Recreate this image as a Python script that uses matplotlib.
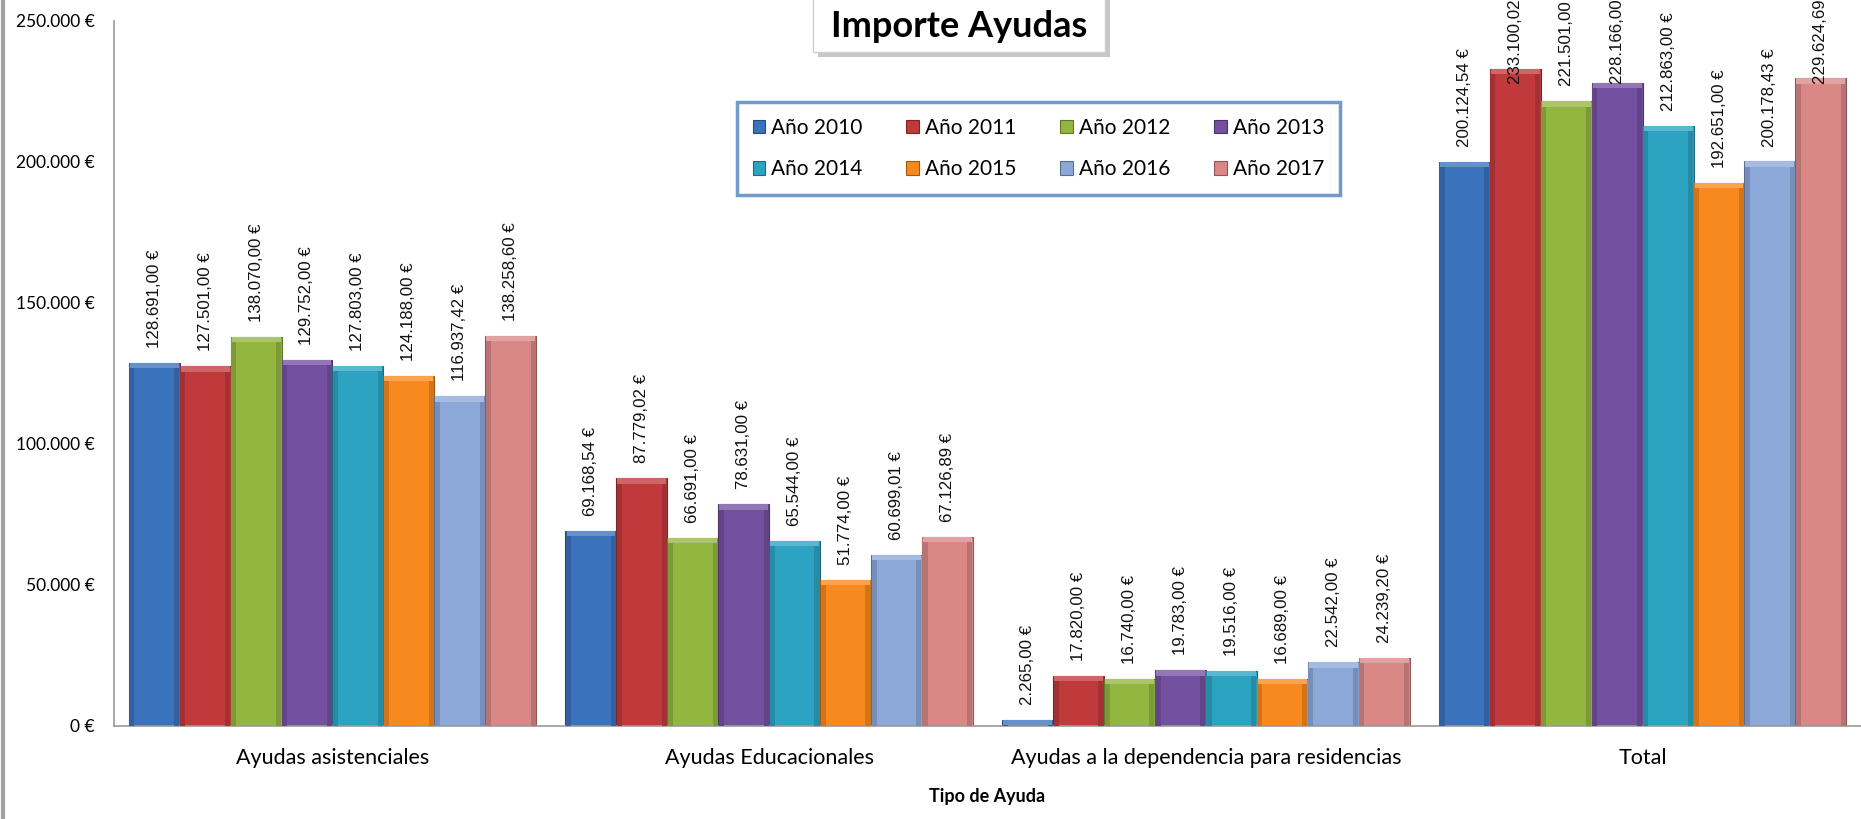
import numpy as np
import matplotlib
matplotlib.use("Agg")
import matplotlib.pyplot as plt
from matplotlib.patches import Rectangle
from matplotlib.lines import Line2D
from matplotlib.colors import to_rgb

# datos
categorias = ["Ayudas asistenciales", "Ayudas Educacionales",
              "Ayudas a la dependencia para residencias", "Total"]
anios = ["Año 2010", "Año 2011", "Año 2012", "Año 2013",
         "Año 2014", "Año 2015", "Año 2016", "Año 2017"]

asistenciales = [128691.00, 127501.00, 138070.00, 129752.00, 127803.00, 124188.00, 116937.42, 138258.60]
educacionales = [69168.54, 87779.02, 66691.00, 78631.00, 65544.00, 51774.00, 60699.01, 67126.89]
dependencia = [2265.00, 17820.00, 16740.00, 19783.00, 19516.00, 16689.00, 22542.00, 24239.20]
total = [200124.54, 233100.02, 221501.00, 228166.00, 212863.00, 192651.00, 200178.43, 229624.69]

colores = ["#3A72BC", "#C0393B", "#92B63F", "#7450A0", "#2DA3C2", "#F7891F", "#8CA8D9", "#D98886"]

valores = np.array([asistenciales, educacionales, dependencia, total])  # [categoria, anio]


def fmt_euro(v):
    s = "{:,.2f}".format(v)
    s = s.replace(",", "X").replace(".", ",").replace("X", ".")
    return s + " €"


def fmt_eje(v, pos):
    s = "{:,.0f}".format(v).replace(",", ".")
    return s + " €"


def mezcla(c, f):
    r, g, b = to_rgb(c)
    if f > 0:
        return (r + (1 - r) * f, g + (1 - g) * f, b + (1 - b) * f)
    return (r * (1 + f), g * (1 + f), b * (1 + f))


plt.rcParams['font.family'] = ['Lato', 'DejaVu Sans']

fig = plt.figure(figsize=(18.61, 8.19), dpi=100)
ax = fig.add_axes([0.0613, 0.1136, 0.9387, 0.8608])

x = np.arange(len(categorias))
w = 0.1166
bisel = 1900  # alto del brillo superior (unidades de datos)
handles = []
for i in range(len(anios)):
    pos = x + (i - 3.5) * w
    v = valores[:, i]
    b = ax.bar(pos, v, w, color=colores[i],
               edgecolor=mezcla(colores[i], -0.35), linewidth=0.8, label=anios[i], zorder=2)
    handles.append(b)
    # bordes laterales oscuros
    ax.bar(pos - w * 0.44, v, w * 0.1, color=mezcla(colores[i], -0.15), linewidth=0, zorder=3)
    ax.bar(pos + w * 0.44, v, w * 0.1, color=mezcla(colores[i], -0.15), linewidth=0, zorder=3)
    # brillo superior (efecto bisel)
    hb = np.minimum(bisel, v)
    ax.bar(pos, hb, w * 0.96, bottom=v - hb, color=mezcla(colores[i], 0.22), linewidth=0, zorder=4)
    for xi, vi in zip(pos, v):
        y = min(vi + 5300, 227700)
        ax.text(xi, y, fmt_euro(vi), rotation=90, ha='center', va='bottom',
                fontsize=12.2, family=['Liberation Sans', 'DejaVu Sans'], color='#111111',
                zorder=5, clip_on=False)

ax.set_xlim(-0.5, 3.5)
ax.set_ylim(0, 250000)
ax.set_yticks([0, 50000, 100000, 150000, 200000, 250000])
ax.yaxis.set_major_formatter(matplotlib.ticker.FuncFormatter(fmt_eje))
ax.set_xticks(x)
ax.set_xticklabels(categorias, fontsize=15.5)
ax.tick_params(axis='y', length=0, pad=14, labelsize=12.5)
ax.tick_params(axis='x', length=0, pad=16)
ax.set_xlabel("Tipo de Ayuda", fontsize=13, fontweight='bold', labelpad=14)

for s in ['top', 'right']:
    ax.spines[s].set_visible(False)
for s in ['left', 'bottom']:
    ax.spines[s].set_color('#9a9a9a')
    ax.spines[s].set_linewidth(1.2)

# leyenda (orden por filas)
orden = [0, 4, 1, 5, 2, 6, 3, 7]
leg = ax.legend([handles[k] for k in orden], [anios[k] for k in orden],
                ncol=4, loc='center', bbox_to_anchor=(0.558, 0.8187),
                bbox_transform=fig.transFigure, fontsize=15, frameon=True,
                fancybox=False, handlelength=0.6, handleheight=0.6, handletextpad=0.3,
                columnspacing=2.1, labelspacing=1.05, borderpad=0.75)
leg.get_frame().set_edgecolor('#4F81BD')
leg.get_frame().set_linewidth(2.5)

# titulo con sombra
fig.add_artist(Rectangle((0.4395, 0.930), 0.157, 0.08, transform=fig.transFigure,
                         fc='#b0b0b0', ec='none', alpha=0.7, zorder=10))
fig.add_artist(Rectangle((0.4368, 0.937), 0.157, 0.08, transform=fig.transFigure,
                         fc='white', ec='#cfcfcf', lw=1, zorder=11))
fig.text(0.5152, 0.968, "Importe Ayudas", ha='center', va='center', fontsize=26,
         fontweight='bold', color='black', zorder=12)

# borde gris a la izquierda
fig.add_artist(Line2D([0.0015, 0.0015], [0, 1], transform=fig.transFigure, color='#a0a0a0', lw=3))

fig.savefig("out.png", dpi=100)
